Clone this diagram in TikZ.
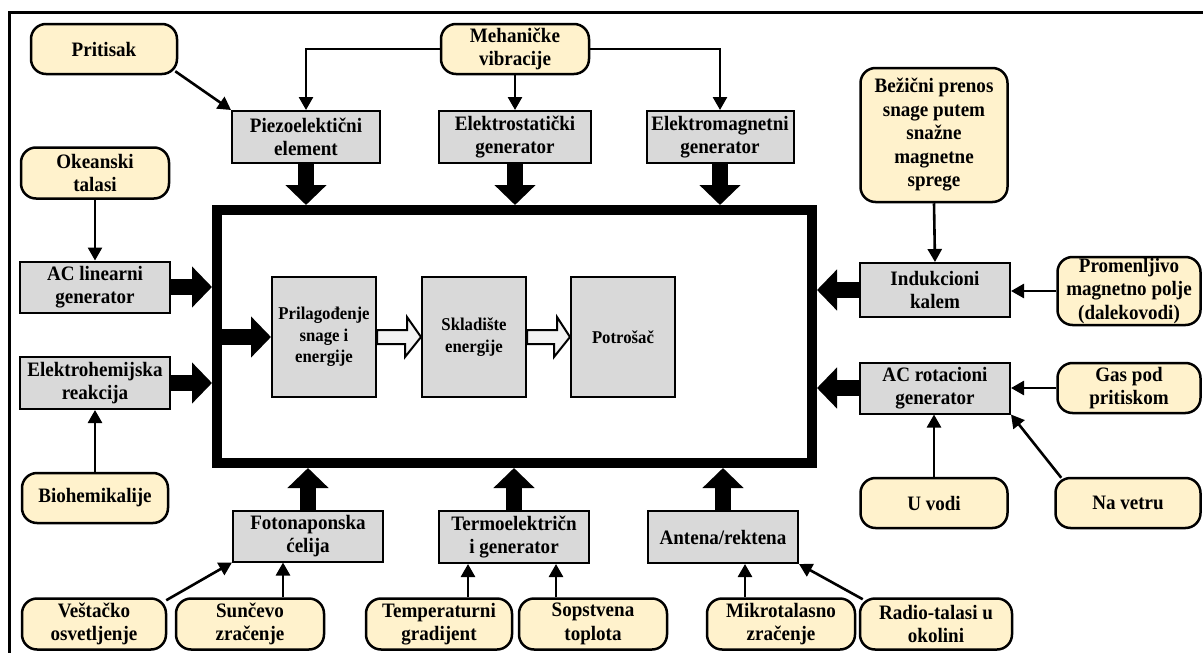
\documentclass[tikz,border=0pt]{standalone}
\usepackage{fontspec}
\setmainfont{Liberation Serif}[FakeStretch=0.93]
\usetikzlibrary{arrows.meta,calc}
\definecolor{srcfill}{HTML}{FFF2CC}
\definecolor{devfill}{HTML}{D9D9D9}
\definecolor{flowfill}{HTML}{F2F2F2}
\begin{document}
\begin{tikzpicture}[x=1pt,y=-1pt,
  font=\bfseries\fontsize{20.5}{23.5}\selectfont,
  src/.style={draw, fill=srcfill, line width=2.5pt, rounded corners=15pt,
    align=center, inner sep=0pt, minimum width=148pt, minimum height=51pt},
  dev/.style={draw, fill=devfill, line width=2pt, align=center, inner sep=0pt,
    minimum width=150pt, minimum height=52pt},
  stage/.style={dev, minimum width=104pt, minimum height=120pt,
    font=\bfseries\fontsize{18}{21.7}\selectfont},
  core/.style={draw, line width=10pt, inner sep=0pt,
    minimum width=595pt, minimum height=253pt},
  link/.style={line width=2.6pt, -{Triangle[length=13pt,width=14pt]}},
  feed/.style={line width=16pt, -{Triangle[length=20pt,width=40pt]}},
  hollow/.style={draw, fill=flowfill, line width=2pt, line join=miter}]

\useasboundingbox (0,0) rectangle (1203,653);
% outer frame (top and left edges)
\draw[line width=3pt] (9.5,653) -- (9.5,12.5) -- (1203,12.5);

% central system
\node[core] (core) at (514.5,336.5) {};
\node[stage] (prilag) at (324,337) {Prilagođenje\\snage i\\energije};
\node[stage] (sklad) at (474,337) {Skladište\\energije};
\node[stage] (potros) at (623,337) {Potrošač};

% converters
\node[dev, minimum width=148pt] (piezo) at (306,137) {Piezoelektični\\element};
\node[dev, minimum width=152pt] (estat) at (515,137) {Elektrostatički\\generator};
\node[dev, minimum width=147pt] (emag) at (720,137) {Elektromagnetni\\generator};
\node[dev, minimum height=51pt] (aclin) at (95,287) {AC linearni\\generator};
\node[dev] (ehem) at (95,383) {Elektrohemijska\\reakcija};
\node[dev, minimum height=54pt] (induk) at (935,290) {Indukcioni\\kalem};
\node[dev, minimum height=51pt] (acrot) at (935,388) {AC rotacioni\\generator};
\node[dev, minimum height=51pt] (foto) at (308,536) {Fotonaponska\\ćelija};
\node[dev] (termo) at (514,537) {Termoelektričn\\i generator};
\node[dev] (antena) at (723,537) {Antena/rektena};

% energy sources
\node[src, minimum width=146pt, minimum height=50pt] (pritisak) at (104,49) {Pritisak};
\node[src, minimum height=50pt] (meh) at (515,49) {Mehaničke\\vibracije};
\node[src] (okean) at (95,173) {Okeanski\\talasi};
\node[src, minimum width=147pt, minimum height=134pt] (bezicni) at (934,135)
  {Bežični prenos\\snage putem\\snažne\\magnetne\\sprege};
\node[src, minimum width=143pt, minimum height=68pt] (promen) at (1129,291)
  {Promenljivo\\magnetno polje\\(dalekovodi)};
\node[src, minimum width=143pt, minimum height=50pt] (gas) at (1129,388) {Gas pod\\pritiskom};
\node[src, minimum width=146pt, minimum height=50pt] (biohem) at (95,498) {Biohemikalije};
\node[src, minimum width=147pt, minimum height=50pt] (uvodi) at (934,503) {U vodi};
\node[src, minimum width=145pt, minimum height=50pt] (navetru) at (1128,503) {Na vetru};
\node[src, minimum width=144pt] (vestacko) at (94,624) {Veštačko\\osvetljenje};
\node[src] (suncevo) at (250,624) {Sunčevo\\zračenje};
\node[src, minimum width=146pt] (temp) at (439,624) {Temperaturni\\gradijent};
\node[src] (sopst) at (593,624) {Sopstvena\\toplota};
\node[src] (mikro) at (781,624) {Mikrotalasno\\zračenje};
\node[src, minimum width=152pt] (radio) at (936,624) {Radio-talasi u\\okolini};

% source -> converter links
\draw[link] ([xshift=-3pt,yshift=4pt]pritisak.south east) -- (piezo.north west);
\draw[link] (meh.west) -| (piezo.north);
\draw[link] (meh.east) -| (emag.north);
\draw[link] (meh.south) -- (estat.north);
\draw[link] (okean.south) -- (aclin.north);
\draw[link] (biohem.north) -- (ehem.south);
\draw[link] (bezicni.south) -- (induk.north);
\draw[link] (promen.west) -- (promen.west -| induk.east);
\draw[link] (gas.west) -- (gas.west -| acrot.east);
\draw[link] (uvodi.north) -- (uvodi.north |- acrot.south);
\draw[link] ([xshift=7pt,yshift=-1pt]navetru.north west) -- (acrot.south east);
\draw[link] ([xshift=-1pt,yshift=-3pt]vestacko.north east) -- (foto.south west);
\draw[link] ([xshift=33pt]suncevo.north) -- ([xshift=33pt]suncevo.north |- foto.south);
\draw[link] ([xshift=29pt]temp.north) -- ([xshift=29pt]temp.north |- termo.south);
\draw[link] ([xshift=-37pt]sopst.north) -- ([xshift=-37pt]sopst.north |- termo.south);
\draw[link] ([xshift=-36pt]mikro.north) -- ([xshift=-36pt]mikro.north |- antena.south);
\draw[link] ([xshift=4pt,yshift=-2pt]radio.north west) -- (antena.south east);

% converter -> system feeds
\draw[feed] (piezo.south) -- (piezo.south |- core.north);
\draw[feed] (estat.south) -- (estat.south |- core.north);
\draw[feed] (emag.south) -- (emag.south |- core.north);
\draw[feed] (aclin.east) -- (aclin.east -| core.west);
\draw[feed] (ehem.east) -- (ehem.east -| core.west);
\draw[feed] (induk.west) -- (induk.west -| core.east);
\draw[feed] (acrot.west) -- (acrot.west -| core.east);
\draw[feed] (foto.north) -- (foto.north |- core.south);
\draw[feed] (termo.north) -- (termo.north |- core.south);
\draw[feed] (antena.north) -- (antena.north |- core.south);
\draw[feed] ([xshift=8pt]prilag.west -| core.west) -- (prilag.west);

% internal energy flow
\draw[hollow] ($(prilag.east)+(0,-7)$) -- ++(30,0) -- ++(0,-13) -- (sklad.west)
  -- ++(-16,20) -- ++(0,-13) -- ($(prilag.east)+(0,7)$) -- cycle;
\draw[hollow] ($(sklad.east)+(0,-7)$) -- ++(30,0) -- ++(0,-13) -- (potros.west)
  -- ++(-16,20) -- ++(0,-13) -- ($(sklad.east)+(0,7)$) -- cycle;
\end{tikzpicture}
\end{document}
